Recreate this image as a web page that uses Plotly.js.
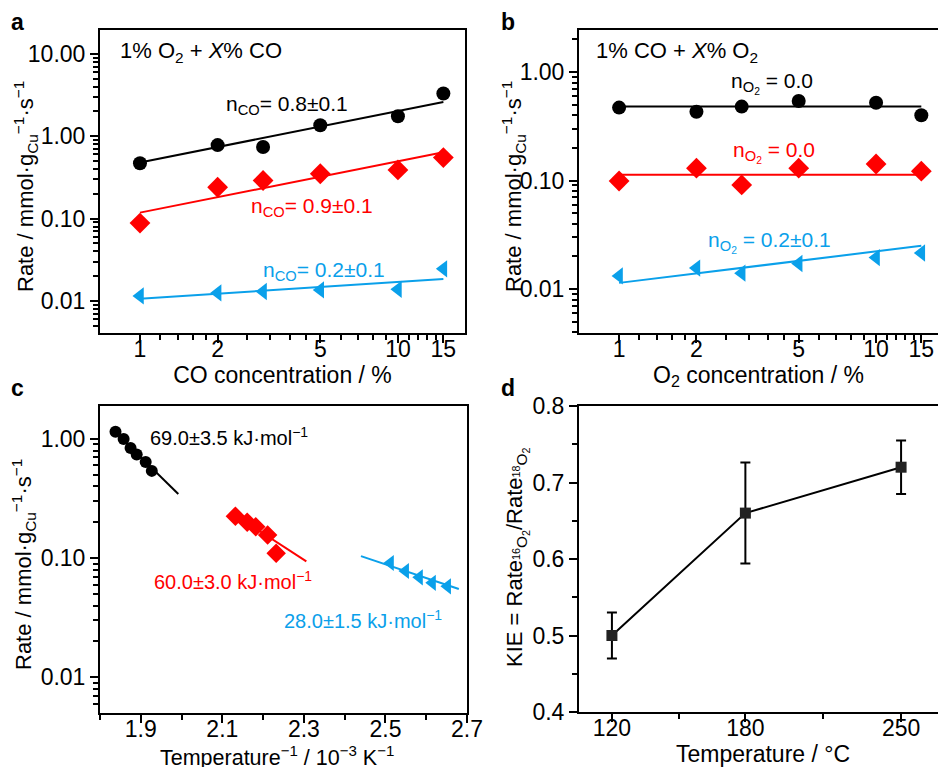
<!DOCTYPE html>
<html>
<head>
<meta charset="utf-8">
<script src="https://cdn.plot.ly/plotly-3.0.1.min.js"></script>
<style>html,body{margin:0;padding:0;background:#fff;}#chart{width:938px;height:767px;}</style>
</head>
<body>
<div id="chart"></div>
<script>
// ---------- Panel a: 1% O2 + X% CO ----------
var aConc = [1, 2, 3, 5, 10, 15];
var aBlack = [0.47, 0.78, 0.74, 1.36, 1.75, 3.3];
var aRed = [0.088, 0.24, 0.29, 0.35, 0.39, 0.55];
var aBlue = [0.0115, 0.0125, 0.013, 0.0136, 0.0138, 0.0245];
var aFitX = [1, 15];
var aFitBlack = [0.48, 2.6];
var aFitRed = [0.118, 0.64];
var aFitBlue = [0.0106, 0.0185];

// ---------- Panel b: 1% CO + X% O2 ----------
var bConc = [1, 2, 3, 5, 10, 15];
var bBlack = [0.47, 0.43, 0.48, 0.54, 0.52, 0.40];
var bRed = [0.099, 0.13, 0.091, 0.13, 0.142, 0.122];
var bBlue = [0.0132, 0.0156, 0.0140, 0.0172, 0.0195, 0.0215];
var bFitX = [1, 15];
var bFitBlack = [0.48, 0.48];
var bFitRed = [0.113, 0.113];
var bFitBlue = [0.0114, 0.025];

// ---------- Panel c: Arrhenius ----------
var cBlackX = [1.838, 1.858, 1.875, 1.890, 1.912, 1.927];
var cBlackY = [1.15, 1.0, 0.84, 0.74, 0.64, 0.54];
var cRedX = [2.132, 2.161, 2.182, 2.211, 2.232];
var cRedY = [0.225, 0.20, 0.183, 0.156, 0.11];
var cBlueX = [2.512, 2.549, 2.583, 2.615, 2.652];
var cBlueY = [0.091, 0.078, 0.069, 0.062, 0.058];
var cFitBlackX = [1.84, 1.992], cFitBlackY = [1.12, 0.345];
var cFitRedX = [2.135, 2.306], cFitRedY = [0.225, 0.094];
var cFitBlueX = [2.44, 2.68], cFitBlueY = [0.104, 0.055];

// ---------- Panel d: KIE ----------
var dTemp = [120, 180, 250];
var dKIE = [0.50, 0.66, 0.72];
var dErrPlus = [0.03, 0.066, 0.035];
var dErrMinus = [0.03, 0.066, 0.035];

// tick labels
var logTickVals = [0.01, 0.1, 1, 10];
var logTickText = ['0.01', '0.10', '1.00', '10.00'];
var concTickVals = [1, 2, 5, 10, 15];
var concTickText = ['1', '2', '5', '10', '15'];
var concMinor = [1.2, 1.4, 1.6, 1.8, 2.6, 3.2, 3.8, 4.4, 6, 7, 8, 9, 11, 12, 13, 14];
var cTickVals = [1.9, 2.1, 2.3, 2.5, 2.7];
var cTickText = ['1.9', '2.1', '2.3', '2.5', '2.7'];
var cMinor = [1.8, 2.0, 2.2, 2.4, 2.6];
var dTickVals = [120, 180, 250];
var dTickText = ['120', '180', '250'];
var dMinor = [150, 215];
var dYTickVals = [0.4, 0.5, 0.6, 0.7, 0.8];
var dYTickText = ['0.4', '0.5', '0.6', '0.7', '0.8'];
var dYMinor = [0.45, 0.55, 0.65, 0.75];

var logMinor = [];
for (var k = -3; k <= 1; k++) {
  for (var m = 2; m <= 9; m++) logMinor.push(m * Math.pow(10, k));
}

var BLACK = '#000000', RED = '#ff0000', BLUE = '#0aa0ea';
var FONT = 'Liberation Sans, Arial, Helvetica, sans-serif';
var W = 938, H = 767;

function px(x) { return x / W; }
function py(y) { return 1 - y / H; }

function pts(x, y, xa, ya, color, symbol, size) {
  return {x: x, y: y, xaxis: xa, yaxis: ya, type: 'scatter', mode: 'markers',
    marker: {color: color, symbol: symbol, size: size, line: {width: 0}}, showlegend: false, hoverinfo: 'skip'};
}
function fit(x, y, xa, ya, color) {
  return {x: x, y: y, xaxis: xa, yaxis: ya, type: 'scatter', mode: 'lines',
    line: {color: color, width: 2}, showlegend: false, hoverinfo: 'skip'};
}

var data = [
  fit(aFitX, aFitBlack, 'x', 'y', BLACK),
  fit(aFitX, aFitRed, 'x', 'y', RED),
  fit(aFitX, aFitBlue, 'x', 'y', BLUE),
  pts(aConc, aBlack, 'x', 'y', BLACK, 'circle', 14),
  pts(aConc, aRed, 'x', 'y', RED, 'diamond', 16),
  pts(aConc, aBlue, 'x', 'y', BLUE, 'triangle-left', 15),

  fit(bFitX, bFitBlack, 'x2', 'y2', BLACK),
  fit(bFitX, bFitRed, 'x2', 'y2', RED),
  fit(bFitX, bFitBlue, 'x2', 'y2', BLUE),
  pts(bConc, bBlack, 'x2', 'y2', BLACK, 'circle', 14),
  pts(bConc, bRed, 'x2', 'y2', RED, 'diamond', 16),
  pts(bConc, bBlue, 'x2', 'y2', BLUE, 'triangle-left', 15),

  fit(cFitBlackX, cFitBlackY, 'x3', 'y3', BLACK),
  fit(cFitRedX, cFitRedY, 'x3', 'y3', RED),
  fit(cFitBlueX, cFitBlueY, 'x3', 'y3', BLUE),
  pts(cBlackX, cBlackY, 'x3', 'y3', BLACK, 'circle', 12),
  pts(cRedX, cRedY, 'x3', 'y3', RED, 'diamond', 15),
  pts(cBlueX, cBlueY, 'x3', 'y3', BLUE, 'triangle-left', 14),

  {x: dTemp, y: dKIE, xaxis: 'x4', yaxis: 'y4', type: 'scatter', mode: 'lines+markers',
   line: {color: BLACK, width: 2}, marker: {symbol: 'square', size: 11, color: '#222222'},
   error_y: {type: 'data', array: dErrPlus, arrayminus: dErrMinus, color: BLACK, thickness: 2, width: 5},
   showlegend: false, hoverinfo: 'skip'}
];

var tickFont = {family: FONT, size: 23, color: '#000'};
var titleFont = {family: FONT, size: 23, color: '#000'};
var yTitleFont = {family: FONT, size: 22, color: '#000'};

function axisBase(extra) {
  var a = {showline: true, linewidth: 2, linecolor: '#000', mirror: true, ticks: 'outside',
    ticklen: 8, tickwidth: 2, tickcolor: '#000', showgrid: false, zeroline: false,
    tickfont: tickFont, fixedrange: true, tickmode: 'array'};
  for (var key in extra) a[key] = extra[key];
  return a;
}
function minor(vals) {
  return {tickmode: 'array', tickvals: vals, ticks: 'outside', ticklen: 5, tickwidth: 2, tickcolor: '#000', showgrid: false};
}

var yTitle = 'Rate / mmol·g<sub>Cu</sub><sup>−1</sup>·s<sup>−1</sup>';
var XSTAND = -14;

var layout = {
  width: W, height: H,
  margin: {l: 0, r: 0, t: 0, b: 0},
  paper_bgcolor: '#fff', plot_bgcolor: '#fff',
  font: {family: FONT, color: '#000'},
  showlegend: false,
  xaxis: axisBase({domain: [px(100), px(465)], type: 'log', range: [-0.155, 1.26], anchor: 'y',
    tickvals: concTickVals, ticktext: concTickText, minor: minor(concMinor), ticklabelstandoff: XSTAND,
    title: {text: 'CO concentration / %', font: titleFont, standoff: 0}}),
  yaxis: axisBase({domain: [py(333), py(30)], type: 'log', range: [-2.39, 1.29], anchor: 'x',
    tickvals: logTickVals, ticktext: logTickText, minor: minor(logMinor)}),
  xaxis2: axisBase({domain: [px(579), 1], type: 'log', range: [-0.156, 1.241], anchor: 'y2',
    tickvals: concTickVals, ticktext: concTickText, minor: minor(concMinor), ticklabelstandoff: XSTAND,
    title: {text: 'O<sub>2</sub> concentration / %', font: titleFont, standoff: 0}}),
  yaxis2: axisBase({domain: [py(333), py(30)], type: 'log', range: [-2.405, 0.387], anchor: 'x2', mirror: false,
    tickvals: logTickVals, ticktext: logTickText, minor: minor(logMinor)}),
  xaxis3: axisBase({domain: [px(100), px(467)], range: [1.8, 2.7], anchor: 'y3',
    tickvals: cTickVals, ticktext: cTickText, minor: minor(cMinor), ticklabelstandoff: XSTAND}),
  yaxis3: axisBase({domain: [py(713), py(406)], type: 'log', range: [-2.30, 0.277], anchor: 'x3',
    tickvals: logTickVals, ticktext: logTickText, minor: minor(logMinor)}),
  xaxis4: axisBase({domain: [px(579), 1], range: [105.2, 266.6], anchor: 'y4',
    tickvals: dTickVals, ticktext: dTickText, minor: minor(dMinor), ticklabelstandoff: XSTAND}),
  yaxis4: axisBase({domain: [py(712), py(406)], range: [0.4, 0.8], anchor: 'x4', mirror: false,
    tickvals: dYTickVals, ticktext: dYTickText, minor: minor(dYMinor)}),
  annotations: []
};

function ann(text, x, y, color, extra) {
  var a = {text: text, xref: 'paper', yref: 'paper', x: px(x), y: py(y), xanchor: 'left', yanchor: 'middle',
    showarrow: false, font: {family: FONT, size: 21, color: color}};
  if (extra) for (var k in extra) a[k] = extra[k];
  layout.annotations.push(a);
}
var titleOpts = {xanchor: 'center', yanchor: 'middle', font: titleFont};
var yTitleOpts = {xanchor: 'center', yanchor: 'middle', textangle: -90, font: yTitleFont};

// axis titles placed as text
ann(yTitle, 25, 187, BLACK, yTitleOpts);
ann(yTitle, 513, 187, BLACK, yTitleOpts);
ann(yTitle, 23, 565, BLACK, yTitleOpts);
ann('KIE = Rate<sub><sup>16</sup>O<sub>2</sub></sub>/Rate<sub><sup>18</sup>O<sub>2</sub></sub>', 517, 557, BLACK, yTitleOpts);
ann('Temperature<sup>−1</sup> / 10<sup>−3</sup> K<sup>−1</sup>', 277, 756, BLACK,
    {xanchor: 'center', yanchor: 'middle', font: {family: FONT, size: 21.5, color: BLACK}});
ann('Temperature / °C', 763, 754, BLACK, titleOpts);

// panel letters
var letterFont = {font: {family: FONT, size: 23, color: BLACK}};
ann('<b>a</b>', 9, 22, BLACK, letterFont);
ann('<b>b</b>', 499, 22, BLACK, letterFont);
ann('<b>c</b>', 9, 388, BLACK, letterFont);
ann('<b>d</b>', 499, 388, BLACK, letterFont);

// panel a
ann('1% O<sub>2</sub> + <i>X</i>% CO', 118, 52, BLACK, {font: {family: FONT, size: 22, color: BLACK}});
ann('n<sub>CO</sub>= 0.8±0.1', 224, 105, BLACK);
ann('n<sub>CO</sub>= 0.9±0.1', 249, 207, RED);
ann('n<sub>CO</sub>= 0.2±0.1', 261, 271, BLUE);
// panel b
ann('1% CO + <i>X</i>% O<sub>2</sub>', 594, 52, BLACK, {font: {family: FONT, size: 22, color: BLACK}});
ann('n<sub>O<sub>2</sub></sub> = 0.0', 729, 83, BLACK);
ann('n<sub>O<sub>2</sub></sub> = 0.0', 731, 152, RED);
ann('n<sub>O<sub>2</sub></sub> = 0.2±0.1', 706, 242, BLUE);
// panel c
var cFont = function (c) { return {font: {family: FONT, size: 20, color: c}}; };
ann('69.0±3.5 kJ·mol<sup>−1</sup>', 148, 436, BLACK, cFont(BLACK));
ann('60.0±3.0 kJ·mol<sup>−1</sup>', 152, 580, RED, cFont(RED));
ann('28.0±1.5 kJ·mol<sup>−1</sup>', 282, 619, BLUE, cFont(BLUE));

Plotly.newPlot('chart', data, layout, {staticPlot: true, displayModeBar: false});
</script>
</body>
</html>
